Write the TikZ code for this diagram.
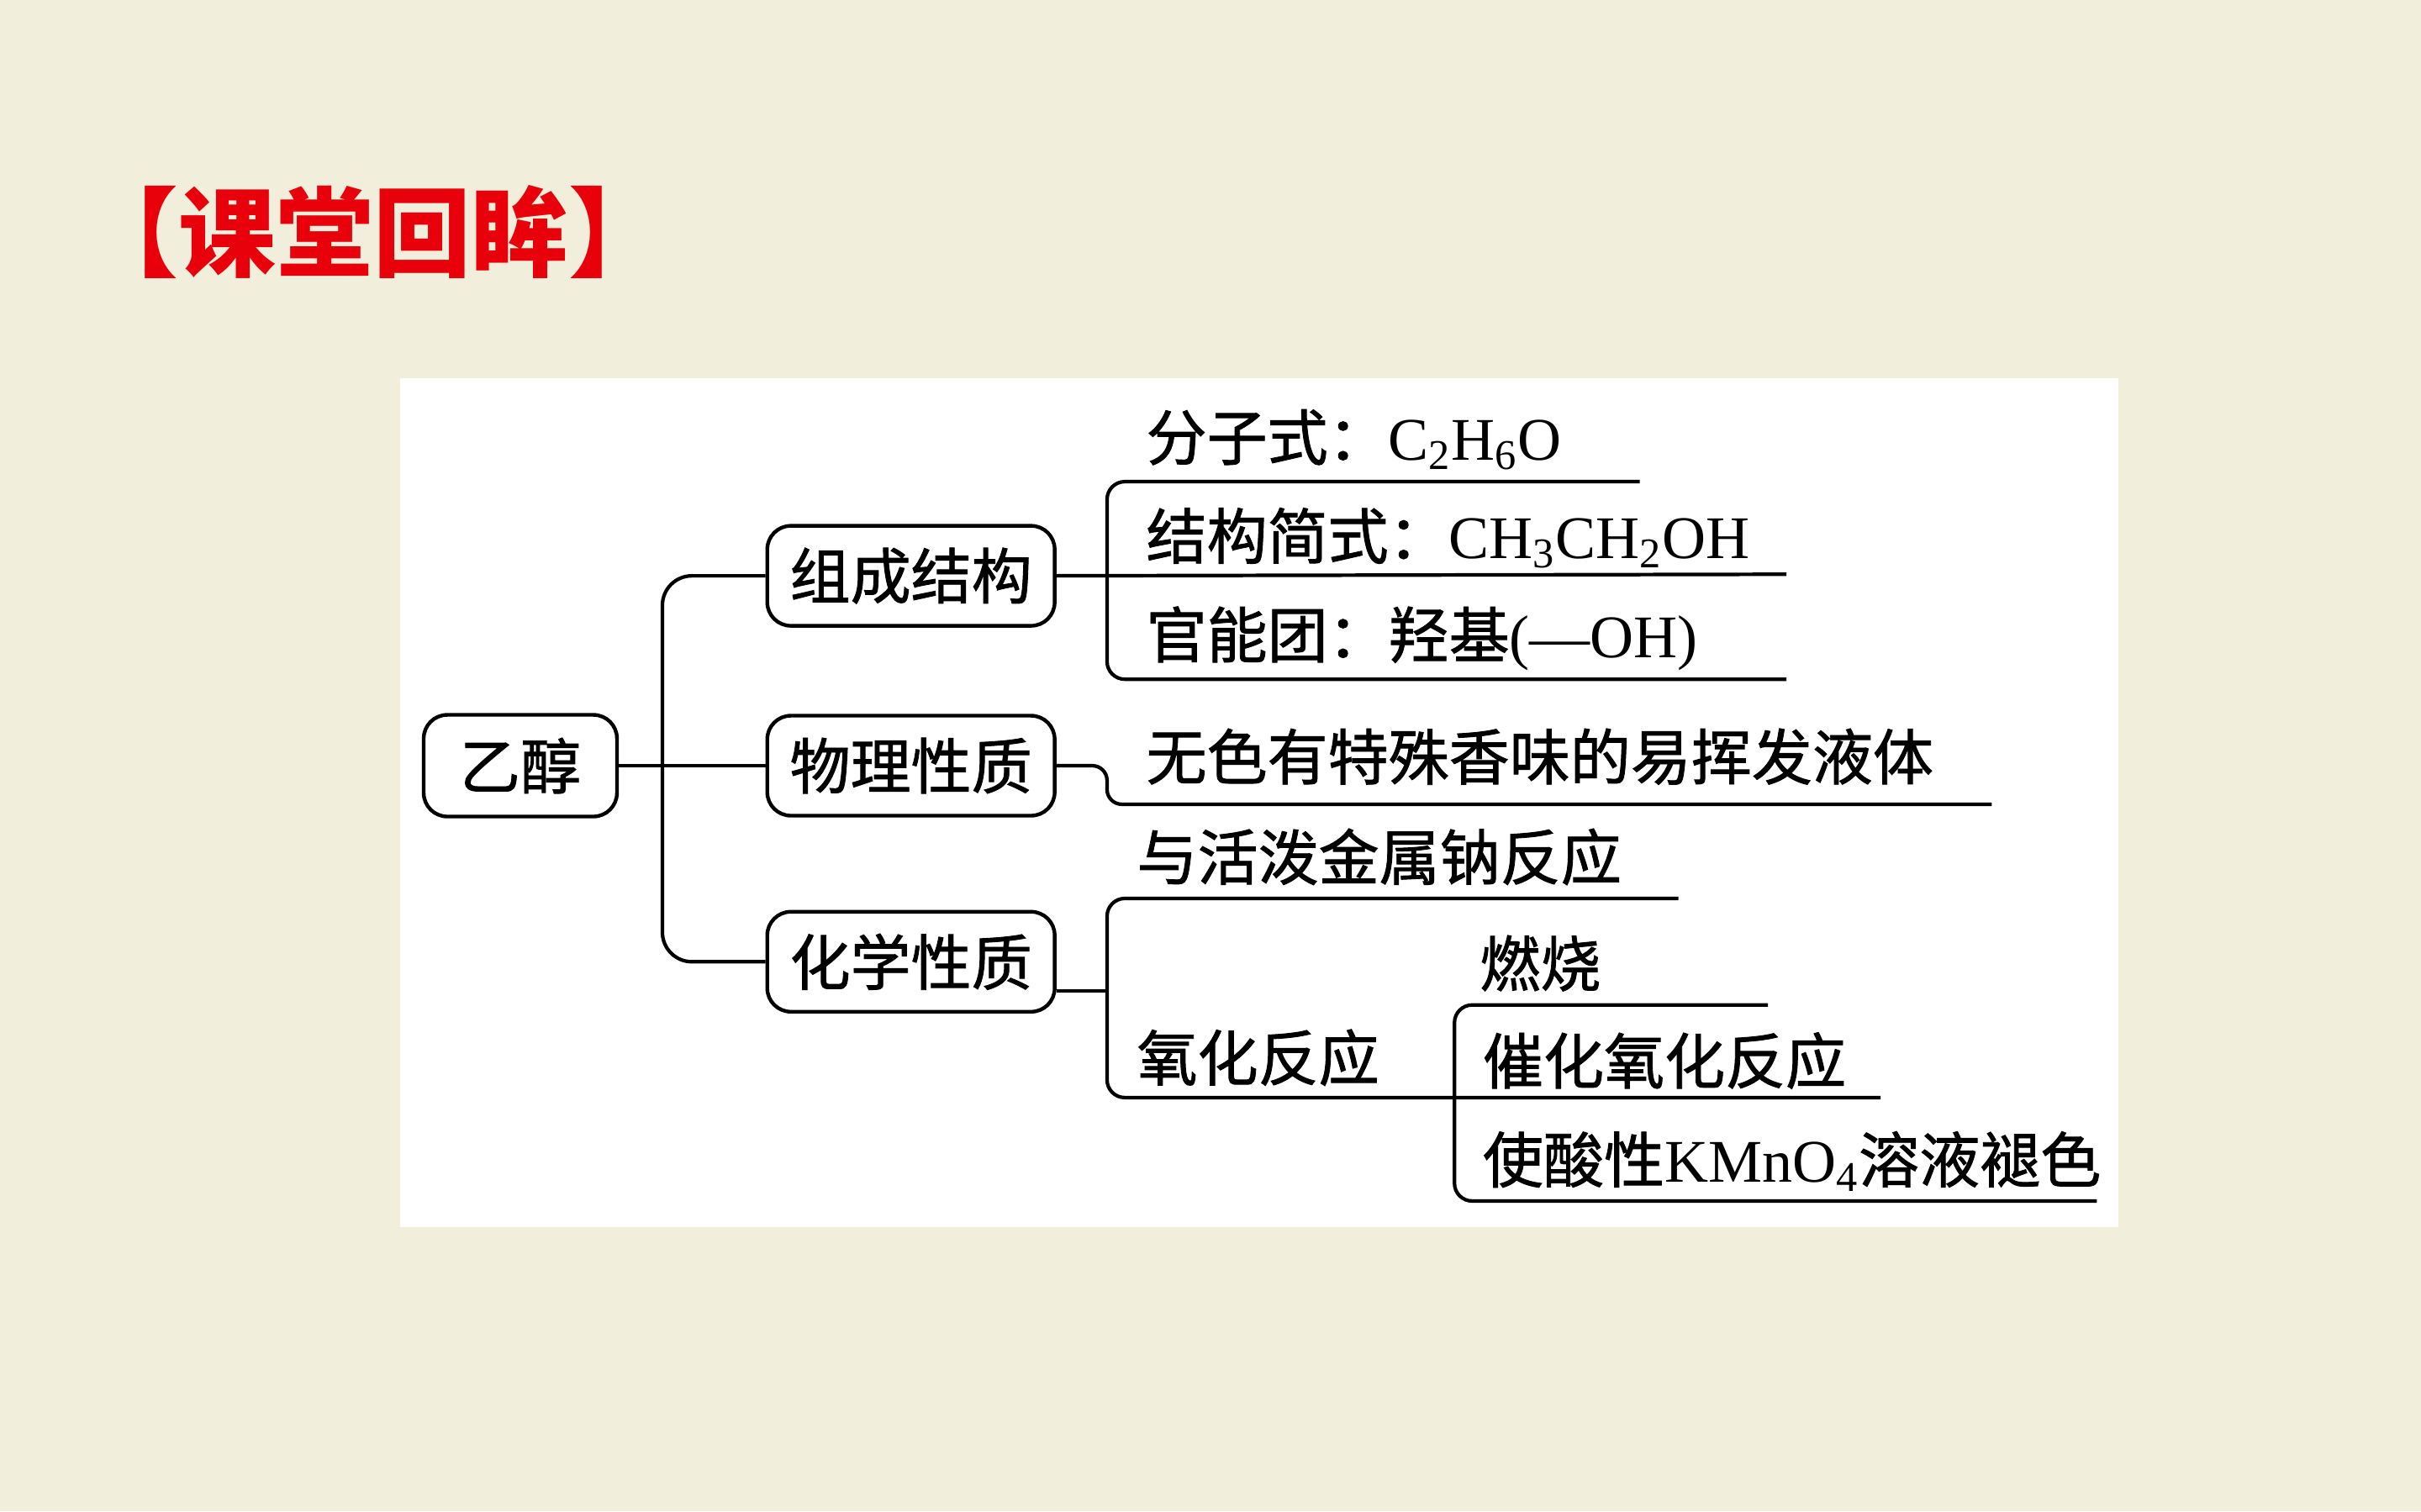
\documentclass[tikz,border=0pt]{standalone}
\usepackage{fontspec}
\setmainfont{Liberation Serif}
\newfontfamily\cjk[FakeBold=1.2]{Noto Sans CJK SC}
\newfontfamily\cjktitle{Noto Sans CJK SC}
\usetikzlibrary{positioning}
\definecolor{paper}{HTML}{F2EEDC}
\definecolor{titleRed}{HTML}{E8000B}

\tikzset{
  topic/.style={draw,line width=1.25pt,rounded corners=8pt,minimum width=3.42cm,
    minimum height=1.19cm,inner sep=0pt,font=\cjk\fontsize{20.5}{24}\selectfont},
  leaf/.style={anchor=base west,inner sep=0pt,font=\fontsize{20.5}{24}\selectfont},
  link/.style={line width=1.2pt,rounded corners=6pt},
}

\begin{document}
\begin{tikzpicture}[x=0.018367cm,y=-0.018367cm]
\fill[paper] (0,0) rectangle (1568,979);
\fill[white] (259,245) rectangle (1372,795);
\node[font=\cjktitle\bfseries\fontsize{33}{36}\selectfont,text=titleRed] (title) at (242,150) {【课堂回眸】};

% main boxes
\node[topic,minimum width=2.3cm,minimum height=1.21cm] (root) at (337,496) {乙醇};
\node[topic] (comp) at (590,373) {组成结构};
\node[topic] (phys) at (590,496) {物理性质};
\node[topic] (chem) at (590,623) {化学性质};

% leaves
\node[leaf] (f1) at (742,298) {{\cjk 分子式：}C\textsubscript{2}H\textsubscript{6}O};
\node[leaf] (f2) at (742,362) {{\cjk 结构简式：}CH\textsubscript{3}CH\textsubscript{2}OH};
\node[leaf] (f3) at (742,426) {{\cjk 官能团：羟基}(—OH)};
\node[leaf] (p1) at (742,505) {\cjk 无色有特殊香味的易挥发液体};
\node[leaf] (c1) at (736,570) {\cjk 与活泼金属钠反应};
\node[leaf] (c2) at (736,700) {\cjk 氧化反应};
\node[leaf] (o1) at (958,639) {\cjk 燃烧};
\node[leaf] (o2) at (960,702) {\cjk 催化氧化反应};
\node[leaf] (o3) at (960,766) {{\cjk 使酸性}KMnO\textsubscript{4}{\cjk 溶液褪色}};

% trunk
\coordinate (tr) at (429,496);
\draw[link,rounded corners=10pt] (comp.west) -| (tr) |- (chem.west);
\draw[link] (root.east) -- (phys.west);

% brackets
\coordinate (cTop) at (1062,312);
\coordinate (cMid) at (1157,372);
\coordinate (cBot) at (1157,440);
\draw[link] (cTop) -| (717,376) |- (cBot);
\draw[link] (comp.east) -- (cMid);

\coordinate (pEnd) at (1290,521);
\draw[link,rounded corners=5pt] (phys.east) -| (717,521) -- (pEnd);

\coordinate (hTop) at (1087,582);
\coordinate (hMid) at (717,642);
\coordinate (hBot) at (1218,711);
\draw[link] (hTop) -| (hMid) |- (hBot);
\draw[link] (chem.east |- hMid) -- (hMid);

\coordinate (oTop) at (1145,651);
\coordinate (oBot) at (1358,778);
\draw[link] (oTop) -| (942,711) |- (oBot);
\end{tikzpicture}
\end{document}
